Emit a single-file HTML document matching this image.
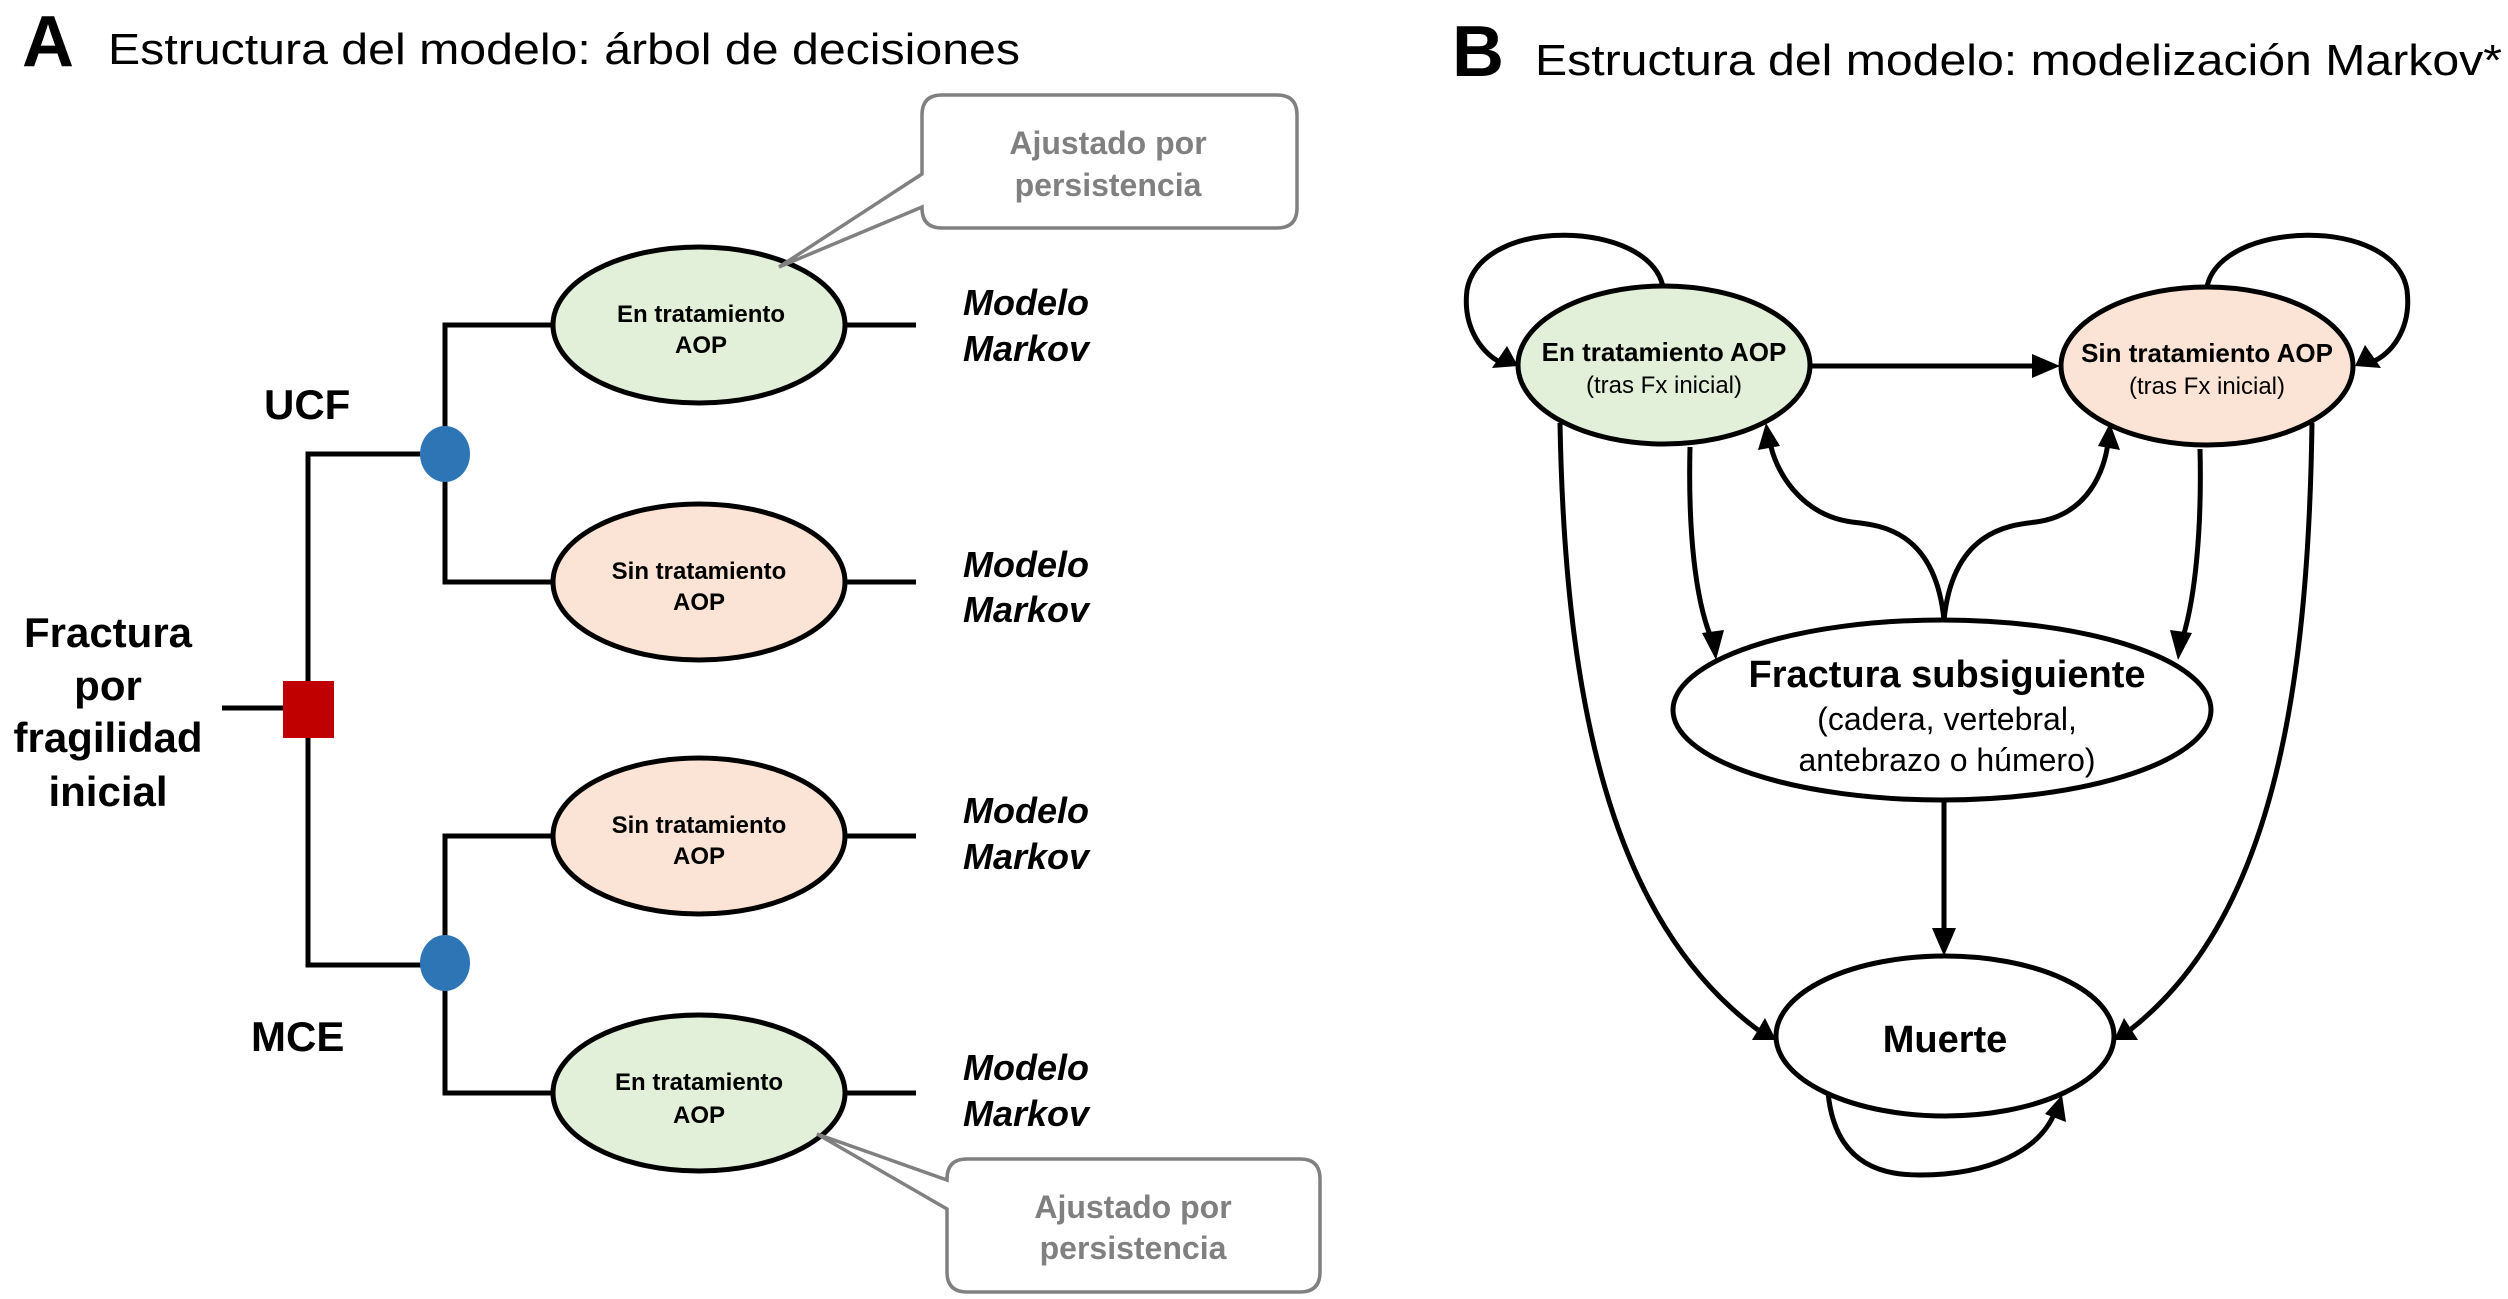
<!DOCTYPE html>
<html><head><meta charset="utf-8"><style>
html,body{margin:0;padding:0;background:#fff;}
svg{display:block;}
text{font-family:"Liberation Sans",Arial,sans-serif;}
</style></head><body>
<svg width="2508" height="1299" viewBox="0 0 2508 1299" xmlns="http://www.w3.org/2000/svg">
<defs>
<marker id="ah" viewBox="0 0 10 10" refX="9" refY="5" markerWidth="8" markerHeight="8" markerUnits="userSpaceOnUse" orient="auto">
</marker>
</defs>
<!-- Panel A -->
<text x="22" y="66" font-size="72" font-weight="bold">A</text>
<text x="108" y="64" font-size="44" textLength="912" lengthAdjust="spacingAndGlyphs">Estructura del modelo: árbol de decisiones</text>

<g stroke="#000" stroke-width="5" fill="none">
<line x1="222" y1="708" x2="290" y2="708"/>
<polyline points="445,454 308,454 308,965 445,965"/>
<polyline points="553,325 445,325 445,582 553,582"/>
<polyline points="553,836 445,836 445,1093 553,1093"/>
<line x1="846" y1="325" x2="916" y2="325"/>
<line x1="846" y1="582" x2="916" y2="582"/>
<line x1="846" y1="836" x2="916" y2="836"/>
<line x1="846" y1="1093" x2="916" y2="1093"/>
</g>
<rect x="283" y="681" width="51" height="57" fill="#c00000"/>
<ellipse cx="445" cy="454" rx="25" ry="28" fill="#2e75b6"/>
<ellipse cx="445" cy="963" rx="25" ry="28" fill="#2e75b6"/>

<g stroke="#000" stroke-width="5">
<ellipse cx="699" cy="325" rx="146" ry="78" fill="#e2efd9"/>
<ellipse cx="699" cy="582" rx="146" ry="78" fill="#fbe4d5"/>
<ellipse cx="699" cy="836" rx="146" ry="78" fill="#fbe4d5"/>
<ellipse cx="699" cy="1093" rx="146" ry="78" fill="#e2efd9"/>
</g>
<g font-size="24" font-weight="bold" text-anchor="middle">
<text x="701" y="322">En tratamiento</text><text x="701" y="353">AOP</text>
<text x="699" y="579">Sin tratamiento</text><text x="699" y="610">AOP</text>
<text x="699" y="833">Sin tratamiento</text><text x="699" y="864">AOP</text>
<text x="699" y="1090">En tratamiento</text><text x="699" y="1123">AOP</text>
</g>
<g font-size="36" font-weight="bold" font-style="italic">
<text x="963" y="315">Modelo</text><text x="963" y="361">Markov</text>
<text x="963" y="577">Modelo</text><text x="963" y="622">Markov</text>
<text x="963" y="823">Modelo</text><text x="963" y="869">Markov</text>
<text x="963" y="1080">Modelo</text><text x="963" y="1126">Markov</text>
</g>
<g font-size="42" font-weight="bold">
<text x="264" y="419">UCF</text>
<text x="251" y="1051">MCE</text>
</g>
<g font-size="42" font-weight="bold" text-anchor="middle">
<text x="108" y="647">Fractura</text>
<text x="108" y="700">por</text>
<text x="108" y="752">fragilidad</text>
<text x="108" y="806">inicial</text>
</g>

<!-- callouts -->
<g stroke="#808080" stroke-width="3.5" fill="#fff">
<path d="M942,95 H1277 Q1297,95 1297,115 V208 Q1297,228 1277,228 H942 Q922,228 922,208 V207 L779,267 L922,174 V115 Q922,95 942,95 Z"/>
<path d="M967,1159 H1300 Q1320,1159 1320,1179 V1272 Q1320,1292 1300,1292 H967 Q947,1292 947,1272 V1209 L817,1134 L947,1180 V1179 Q947,1159 967,1159 Z"/>
</g>
<g font-size="32" font-weight="bold" fill="#808080" text-anchor="middle">
<text x="1108" y="154">Ajustado por</text><text x="1108" y="196">persistencia</text>
<text x="1133" y="1218">Ajustado por</text><text x="1133" y="1259">persistencia</text>
</g>

<!-- Panel B -->
<text x="1452" y="76" font-size="72" font-weight="bold">B</text>
<text x="1535" y="75" font-size="44" textLength="967" lengthAdjust="spacingAndGlyphs">Estructura del modelo: modelización Markov*</text>

<g stroke="#000" stroke-width="5" fill="none">
<!-- self loops -->
<path d="M1663,287 C1650,220 1480,215 1467,290 C1462,330 1485,355 1500,362"/>
<path d="M2207,287 C2220,220 2395,215 2407,290 C2412,330 2390,355 2372,362"/>
<!-- horizontal -->
<line x1="1810" y1="366" x2="2038" y2="366"/>
<!-- down arrows -->
<path d="M1690,447 C1688,530 1695,600 1712,640"/>
<path d="M2200,449 C2202,530 2195,600 2182,640"/>
<!-- Fractura up -->
<path d="M1944,620 C1935,530 1880,525 1852,522 C1800,515 1775,470 1770,442"/>
<path d="M1944,620 C1953,530 2010,525 2036,522 C2088,515 2105,470 2108,442"/>
<!-- long sides -->
<path d="M1560,423 C1565,700 1610,920 1758,1030"/>
<path d="M2312,423 C2308,700 2270,920 2130,1030"/>
<!-- fract to muerte -->
<line x1="1944" y1="800" x2="1944" y2="936"/>
<!-- muerte self loop -->
<path d="M1828,1092 C1835,1170 1890,1175 1920,1175 C1990,1175 2040,1150 2055,1112"/>
</g>
<g fill="#000">
<polygon points="1518,366 1492,368 1507,346"/>
<polygon points="2355,366 2365,345 2381,368"/>
<polygon points="2060,366 2032,354 2032,378"/>
<polygon points="1716,660 1702,633 1724,630"/>
<polygon points="2178,660 2170,630 2192,633"/>
<polygon points="1766,423 1758,450 1780,446"/>
<polygon points="2110,423 2098,446 2120,450"/>
<polygon points="1944,956 1932,928 1956,928"/>
<polygon points="1776,1040 1752,1040 1765,1018"/>
<polygon points="2114,1040 2124,1018 2138,1040"/>
<polygon points="2062,1095 2066,1122 2045,1114"/>
</g>
<g stroke="#000" stroke-width="5">
<ellipse cx="1664" cy="365" rx="146" ry="79" fill="#e2efd9"/>
<ellipse cx="2207" cy="366" rx="146" ry="79" fill="#fbe4d5"/>
<ellipse cx="1942" cy="710" rx="269" ry="90" fill="#fff"/>
<ellipse cx="1945" cy="1036" rx="169" ry="80" fill="#fff"/>
</g>
<g text-anchor="middle">
<text x="1664" y="361" font-size="26" font-weight="bold">En tratamiento AOP</text>
<text x="1664" y="393" font-size="24">(tras Fx inicial)</text>
<text x="2207" y="362" font-size="26" font-weight="bold">Sin tratamiento AOP</text>
<text x="2207" y="394" font-size="24">(tras Fx inicial)</text>
<text x="1947" y="687" font-size="38" font-weight="bold">Fractura subsiguiente</text>
<text x="1947" y="730" font-size="32">(cadera, vertebral,</text>
<text x="1947" y="771" font-size="32">antebrazo o húmero)</text>
<text x="1945" y="1052" font-size="38" font-weight="bold">Muerte</text>
</g>
</svg>
</body></html>
